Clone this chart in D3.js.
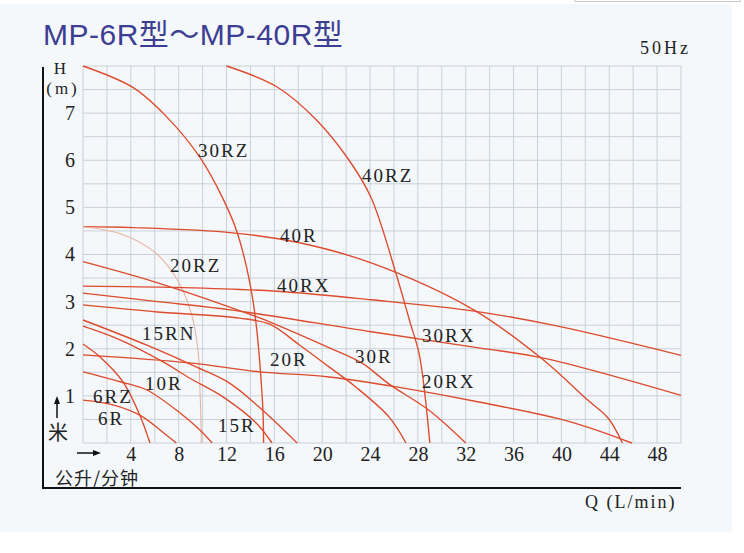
<!DOCTYPE html>
<html><head><meta charset="utf-8">
<script src="https://cdn.jsdelivr.net/npm/d3@7/dist/d3.min.js"></script>
<style>body{margin:0;background:#fff}svg{display:block}</style>
</head><body>
<svg id="c" width="744" height="553"></svg>
<script>
// ---- data ----
const qTicks = [4, 8, 12, 16, 20, 24, 28, 32, 36, 40, 44, 48];
const hTicks = [1, 2, 3, 4, 5, 6, 7];
const seriesNames = ["30RZ","40RZ","40R","20RZ","30R","40RX","30RX","20R","15RN","15R","6RZ","20RX","10R","6R"];

const q30RZ = [0, 4.2, 7, 9.75, 11.75, 12.9, 14.2, 15, 15.1];
const h30RZ = [8.0, 7.54, 6.92, 6.07, 5.16, 4.46, 3.04, 0.91, 0];
const q40RZ = [12, 16.2, 19.5, 22.25, 24.1, 26.2, 27.3, 28.1, 28.6, 29];
const h40RZ = [8.0, 7.56, 6.86, 6.0, 5.2, 3.57, 2.6, 1.9, 1.0, 0];
const q40R = [0, 4.2, 12.5, 18.1, 24.1, 32.7, 38.5, 42.2, 43.9, 45.1];
const h40R = [4.59, 4.57, 4.46, 4.25, 3.82, 2.82, 1.76, 0.91, 0.53, 0];
const q20RZ = [0, 3, 6, 7.8, 9, 9.6, 9.8, 9.9];
const h20RZ = [4.59, 4.45, 4.05, 3.5, 2.8, 2.0, 1.0, 0];
const q30R = [0, 6.25, 14.5, 15.8, 20.6, 23.3, 25.6, 28.9, 32];
const h30R = [3.85, 3.40, 2.68, 2.55, 2.02, 1.70, 1.25, 0.70, 0];
const q40RX = [0, 8, 16.2, 24.1, 32.7, 39.7, 50];
const h40RX = [3.33, 3.30, 3.22, 3.04, 2.80, 2.48, 1.86];
const q30RX = [0, 6.25, 12.5, 24.1, 33.1, 38.5, 50];
const h30RX = [3.18, 3.00, 2.82, 2.36, 2.02, 1.80, 1.01];
const q20R = [0, 6.25, 13.1, 15.6, 18.1, 20.6, 22.8, 25.6, 27];
const h20R = [2.93, 2.78, 2.65, 2.52, 2.08, 1.61, 1.19, 0.55, 0];
const q15RN = [0, 5.3, 9.5, 12.25, 15, 17.9];
const h15RN = [2.61, 2.08, 1.61, 1.27, 0.70, 0];
const q15R = [0, 3.1, 6.7, 8.9, 11.7, 14.5, 15.8];
const h15R = [2.48, 2.19, 1.72, 1.38, 0.98, 0.42, 0];
const q6RZ = [0, 1.4, 3.33, 4.75, 5.6];
const h6RZ = [2.10, 1.83, 1.30, 0.59, 0];
const q20RX = [0, 8.9, 14.75, 18.9, 20.6, 26.2, 33.1, 40.75, 45.9];
const h20RX = [1.87, 1.70, 1.51, 1.44, 1.40, 1.19, 0.87, 0.45, 0];
const q10R = [0, 3.1, 5.3, 8.1, 9.75, 10.8];
const h10R = [1.51, 1.30, 1.13, 0.64, 0.28, 0];
const q6R = [0, 2.5, 4.75, 6.67, 7.8];
const h6R = [0.91, 0.81, 0.59, 0.23, 0];

const seriesQ = [q30RZ,q40RZ,q40R,q20RZ,q30R,q40RX,q30RX,q20R,q15RN,q15R,q6RZ,q20RX,q10R,q6R];
const seriesH = [h30RZ,h40RZ,h40R,h20RZ,h30R,h40RX,h30RX,h20R,h15RN,h15R,h6RZ,h20RX,h10R,h6R];

// ---- layout (positions of curve labels, in px) ----
const labelPos = {
  "30RZ":[198,157],"40RZ":[362,182],"40R":[280,242],"20RZ":[170,272],
  "40RX":[277,292],"15RN":[142,340],"20R":[270,366],"30R":[355,363],
  "30RX":[422,342],"20RX":[422,388],"10R":[145,390],"6RZ":[93,403],
  "6R":[98,425],"15R":[218,432]
};

const svg = d3.select("#c");
svg.append("rect").attr("x",0).attr("y",4).attr("width",732).attr("height",528).attr("fill","#f4f8fb");
svg.append("rect").attr("x",575).attr("y",-4).attr("width",165).attr("height",5.5)
  .attr("fill","none").attr("stroke","#c8c8c8").attr("stroke-width",1);

const x = d3.scaleLinear().domain([0,50]).range([83,681]);
const y = d3.scaleLinear().domain([0,8]).range([443,66]);

// grid
const grid = svg.append("g").attr("stroke","#c9d0d9").attr("stroke-width",1);
grid.selectAll(".v").data(d3.range(0,51,2)).join("line")
  .attr("x1",d=>x(d)).attr("x2",d=>x(d)).attr("y1",y(8)).attr("y2",y(0));
grid.selectAll(".h").data(d3.range(0,8.01,0.5)).join("line")
  .attr("x1",x(0)).attr("x2",x(50)).attr("y1",d=>y(d)).attr("y2",d=>y(d));

// curves
const line = d3.line().x(d=>x(d[0])).y(d=>y(d[1])).curve(d3.curveCatmullRom.alpha(0.5));
seriesNames.forEach((name,i)=>{
  const pts = seriesQ[i].map((q,j)=>[q, seriesH[i][j]]);
  const thin = name==="20RZ";
  svg.append("path").datum(pts).attr("d",line).attr("fill","none")
    .attr("stroke", thin ? "#eab3a0" : "#dd4a2c")
    .attr("stroke-width", thin ? 1.1 : 1.35);
});

// curve labels
const serif = "'Liberation Serif','DejaVu Serif',serif";
seriesNames.forEach(name=>{
  const p = labelPos[name];
  svg.append("text").attr("x",p[0]).attr("y",p[1]).text(name)
    .attr("font-family",serif).attr("font-size",19).attr("letter-spacing",2).attr("fill","#222");
});

// axes
const xAxis = svg.append("g").attr("transform",`translate(0,${y(0)})`)
  .call(d3.axisBottom(x).tickValues(qTicks).tickSize(0).tickPadding(4));
xAxis.select(".domain").remove();
xAxis.selectAll("text").attr("font-family",serif).attr("font-size",20).attr("fill","#222");

const yAxis = svg.append("g").attr("transform",`translate(${x(0)},0)`)
  .call(d3.axisLeft(y).tickValues(hTicks).tickSize(0).tickPadding(0));
yAxis.select(".domain").remove();
yAxis.selectAll("text").attr("font-family",serif).attr("font-size",20).attr("fill","#222")
  .attr("text-anchor","middle").attr("x",-13);

// frame
svg.append("path").attr("d","M43,67 V488 H681").attr("fill","none").attr("stroke","#111").attr("stroke-width",2);

// title and texts
svg.append("text").attr("x",43).attr("y",45).text("MP-6R型～MP-40R型")
  .attr("font-family","'Liberation Sans','Noto Sans CJK SC',sans-serif").attr("font-size",30)
  .attr("letter-spacing",0.5).attr("fill","#3b3e92");
svg.append("text").attr("x",640).attr("y",54).text("50Hz")
  .attr("font-family",serif).attr("font-size",18).attr("letter-spacing",3).attr("fill","#222");
svg.append("text").attr("x",60).attr("y",74).text("H").attr("text-anchor","middle")
  .attr("font-family",serif).attr("font-size",17).attr("fill","#222");
svg.append("text").attr("x",63).attr("y",94).text("(m)").attr("text-anchor","middle")
  .attr("font-family",serif).attr("font-size",17).attr("letter-spacing",3).attr("fill","#222");
svg.append("text").attr("x",585).attr("y",508).text("Q (L/min)")
  .attr("font-family",serif).attr("font-size",18).attr("letter-spacing",2).attr("fill","#222");
svg.append("text").attr("x",55).attr("y",485).text("公升/分钟")
  .attr("font-family","'Noto Sans CJK SC',sans-serif").attr("font-size",18).attr("letter-spacing",1).attr("fill","#222");
svg.append("text").attr("x",58).attr("y",440).text("米").attr("text-anchor","middle")
  .attr("font-family","'Noto Sans CJK SC',sans-serif").attr("font-size",20).attr("fill","#222");

// arrows
svg.append("line").attr("x1",57).attr("x2",57).attr("y1",418).attr("y2",401).attr("stroke","#111").attr("stroke-width",1.5);
svg.append("path").attr("d","M57,396 L54,404 L60,404 Z").attr("fill","#111");
svg.append("line").attr("x1",77).attr("x2",96).attr("y1",453).attr("y2",453).attr("stroke","#111").attr("stroke-width",1.5);
svg.append("path").attr("d","M101,453 L93,450 L93,456 Z").attr("fill","#111");
</script>
</body></html>
